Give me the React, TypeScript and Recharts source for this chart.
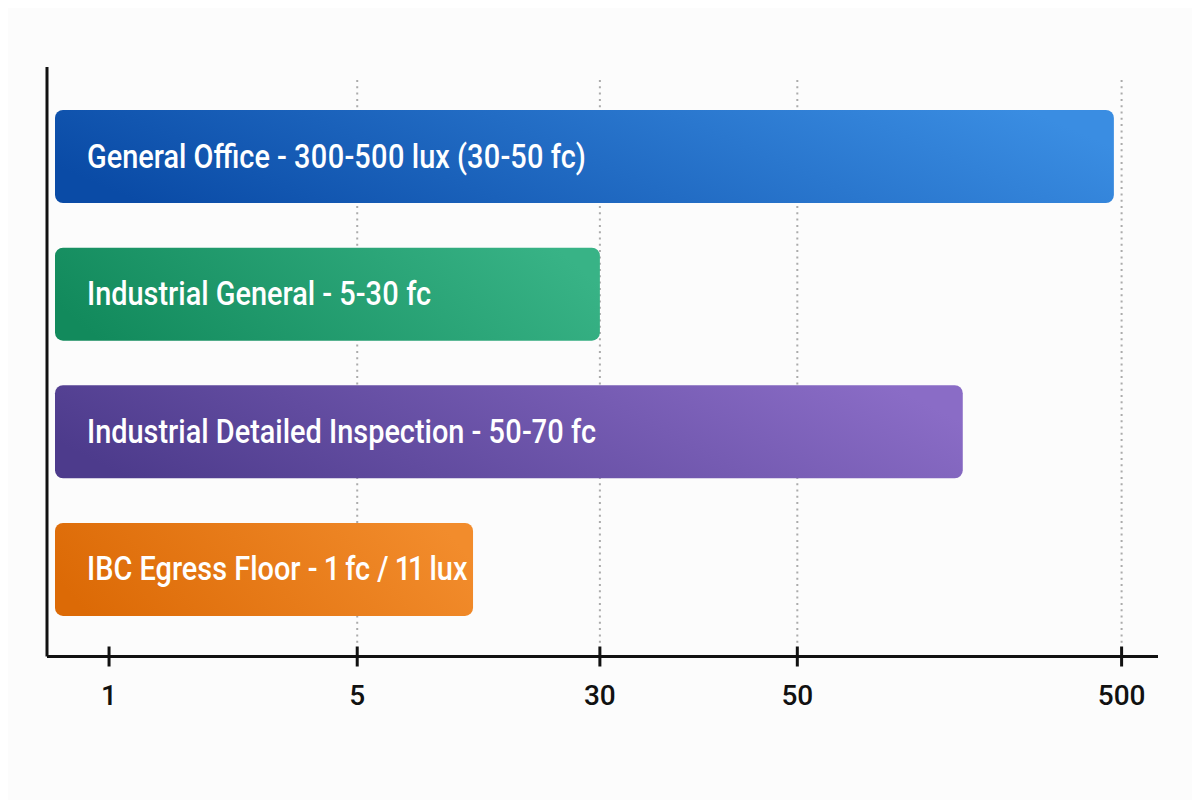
import React from 'react';
import { BarChart, Bar, XAxis, YAxis, Cell, LabelList, CartesianGrid } from 'recharts';

// Categories (top to bottom) and their bar labels
const categories = ['General Office', 'Industrial General', 'Industrial Detailed Inspection', 'IBC Egress Floor'];
const barLabels = [
  'General Office - 300-500 lux (30-50 fc)',
  'Industrial General - 5-30 fc',
  'Industrial Detailed Inspection - 50-70 fc',
  'IBC Egress Floor - 1 fc / 11 lux',
];
// Bar end positions on the chart's (non-uniform) illuminance axis, 0-100 axis units
const barValues = [96.0, 49.4, 82.3, 37.9];

// Tick labels and where they sit on the axis (0-100 axis units)
const tickLabels = ['1', '5', '30', '50', '500'];
const tickPositions = [4.9, 27.4, 49.4, 67.3, 96.7];
// gridlines are drawn for every tick except the first ("1")
const gridSkip = ['1'];

const gradients = [
  ['#0A4BA6', '#3A8DE2'],
  ['#128A5C', '#38B386'],
  ['#4D3B8C', '#8A6CC6'],
  ['#DC6A06', '#F28C2C'],
];

const data = categories.map((name, i) => ({ name, value: barValues[i], label: barLabels[i] }));

const FONT = 'Roboto, "Noto Sans", Arial, sans-serif';

const XTick = (props: any) => {
  const { x, y, payload } = props;
  const idx = tickPositions.indexOf(payload.value);
  return (
    <g>
      <line x1={x} x2={x} y1={y - 10} y2={y + 10} stroke="#111" strokeWidth={3} />
      <text x={x} y={y + 48.5} textAnchor="middle" fontSize={28} fontWeight={500} fill="#111" fontFamily={FONT}>
        {tickLabels[idx]}
      </text>
    </g>
  );
};

const BarText = (props: any) => {
  const { x, y, height, value } = props;
  const tx = x + 32;
  const ty = y + height / 2 + 11;
  return (
    <text
      transform={`translate(${tx} ${ty}) scale(0.85 1)`}
      x={0}
      y={0}
      fill="#fff"
      fontSize={34}
      fontWeight={500}
      fontFamily={FONT}
      style={{ fontVariantNumeric: 'proportional-nums' }}
    >
      {value}
    </text>
  );
};

const GridLine = (props: any) => {
  const { x1, x2, y1, y2, index } = props;
  const lab = tickLabels[index];
  if (lab === undefined || gridSkip.includes(lab)) return <g />;
  return (
    <line
      x1={x1}
      x2={x2}
      y1={y1 + 13}
      y2={y2 - 11}
      stroke="#ababab"
      strokeWidth={2}
      strokeDasharray="2 4.3"
    />
  );
};

export default function App() {
  return (
    <div style={{ width: 1192, height: 792, background: '#fcfcfc' }}>
      <BarChart
        width={1192}
        height={792}
        data={data}
        layout="vertical"
        margin={{ top: 59, right: 42, bottom: 83.5, left: 38 }}
      >
        <defs>
          {gradients.map((g, i) => (
            <linearGradient key={i} id={`barGrad${i}`} x1="0" y1="0.6" x2="1" y2="0.4">
              <stop offset="0%" stopColor={g[0]} />
              <stop offset="100%" stopColor={g[1]} />
            </linearGradient>
          ))}
        </defs>
        <CartesianGrid horizontal={false} vertical={GridLine} />
        <XAxis
          type="number"
          domain={[0, 100]}
          ticks={tickPositions}
          interval={0}
          height={60}
          padding={{ left: 8, right: 0 }}
          axisLine={{ stroke: '#111', strokeWidth: 3 }}
          tickLine={false}
          tickSize={0}
          tickMargin={0}
          tick={<XTick />}
        />
        <YAxis
          type="category"
          dataKey="name"
          width={1}
          tick={false}
          tickLine={false}
          axisLine={{ stroke: '#111', strokeWidth: 3 }}
          padding={{ top: 21, bottom: 18 }}
        />
        <Bar dataKey="value" barSize={93} radius={8} isAnimationActive={false}>
          {data.map((_, i) => (
            <Cell key={i} fill={`url(#barGrad${i})`} />
          ))}
          <LabelList dataKey="label" content={<BarText />} />
        </Bar>
      </BarChart>
    </div>
  );
}
